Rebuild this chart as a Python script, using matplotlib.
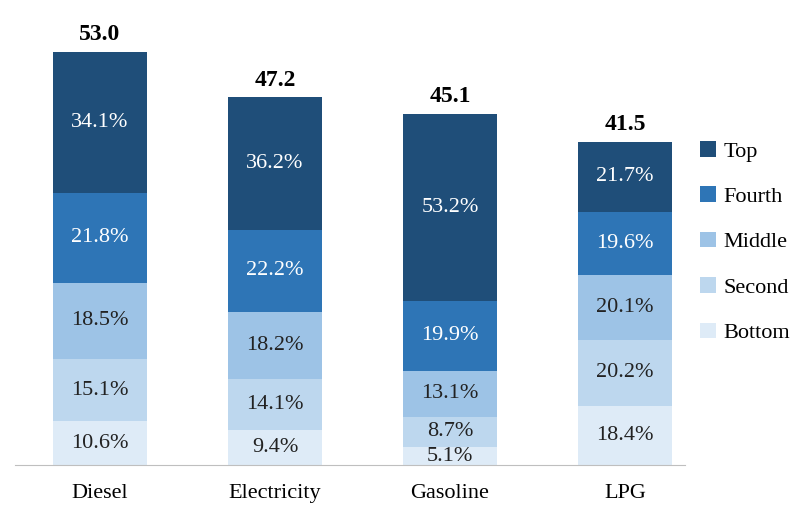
import numpy as np
import matplotlib.pyplot as plt

plt.rcParams['font.family'] = ['Liberation Serif', 'DejaVu Serif']

categories = ['Diesel', 'Electricity', 'Gasoline', 'LPG']
totals = [53.0, 47.2, 45.1, 41.5]
groups = ['Bottom', 'Second', 'Middle', 'Fourth', 'Top']
shares = {
    'Bottom': [10.6, 9.4, 5.1, 18.4],
    'Second': [15.1, 14.1, 8.7, 20.2],
    'Middle': [18.5, 18.2, 13.1, 20.1],
    'Fourth': [21.8, 22.2, 19.9, 19.6],
    'Top':    [34.1, 36.2, 53.2, 21.7],
}
colors = {'Bottom': '#deebf7', 'Second': '#bdd7ee', 'Middle': '#9dc3e6',
          'Fourth': '#2e75b6', 'Top': '#1f4e79'}
text_colors = {'Bottom': '#222222', 'Second': '#222222', 'Middle': '#222222',
               'Fourth': 'white', 'Top': 'white'}

fig = plt.figure(figsize=(8.04, 5.08), dpi=100)
ax = fig.add_axes([15/804, 43/508, 670/804, 436/508])
x = np.arange(len(categories))
bottom = np.zeros(len(categories))
handles = {}
for g in groups:
    h = np.array(shares[g]) / 100 * np.array(totals)
    handles[g] = ax.bar(x, h, 0.54, bottom=bottom, color=colors[g], label=g)
    for i in range(len(x)):
        ax.text(x[i], bottom[i] + h[i] / 2, f'{shares[g][i]:.1f}%', ha='center',
                va='center', fontsize=16, color=text_colors[g])
    bottom += h
for i in range(len(x)):
    ax.text(x[i], totals[i] + 0.9, f'{totals[i]:.1f}', ha='center', va='bottom',
            fontsize=17, fontweight='bold')

ax.set_xlim(-0.486, 3.343)
ax.set_ylim(0, 56)
ax.set_yticks([])
ax.set_xticks(x, categories, fontsize=16)
ax.tick_params(axis='x', length=0, pad=14)
for s in ['top', 'right', 'left']:
    ax.spines[s].set_visible(False)
ax.spines['bottom'].set_color('#bfbfbf')

fig.legend([handles[g] for g in groups[::-1]], groups[::-1], loc='upper left',
           bbox_to_anchor=(700/804, 1 - 141/508), frameon=False, fontsize=16,
           borderpad=0, borderaxespad=0,
           handlelength=0.7, handleheight=0.7, handletextpad=0.35, labelspacing=1.12)
fig.savefig('out.png', dpi=100)
